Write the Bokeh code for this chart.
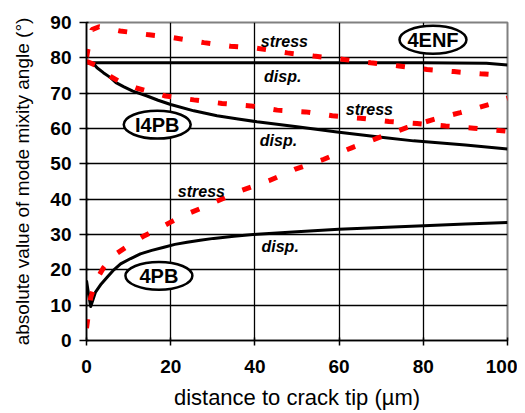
from bokeh.plotting import figure
from bokeh.models import FixedTicker, Range1d
from bokeh.core.properties import value
from bokeh.embed import file_html
from bokeh.resources import INLINE

# ---- data ----
enf_disp_x = [0, 20, 40, 60, 80, 95, 100]
enf_disp_y = [78.6, 78.6, 78.6, 78.6, 78.6, 78.5, 78.0]

enf_stress_x = [0, 0.5, 1.3, 3, 8, 14.4, 20.7, 27.9, 34.2, 40.5, 47.7, 54, 60.7, 67.5, 74.2, 80.9, 87.3, 93.6, 100]
enf_stress_y = [80.0, 83.5, 88.0, 88.8, 87.6, 86.6, 85.7, 84.3, 83.3, 82.7, 81.4, 80.5, 79.6, 78.6, 77.7, 76.7, 76.1, 75.5, 74.9]

i4pb_disp_x = [0, 1.7, 2.5, 4, 5.7, 7, 8.9, 11, 14.4, 17, 20, 25.5, 31, 36, 40.5, 50, 59.5, 70, 77.7, 90, 100]
i4pb_disp_y = [78.6, 78.3, 77.2, 75.8, 74.4, 73.0, 71.8, 70.6, 69.2, 68.0, 66.8, 65.0, 63.6, 62.7, 61.9, 60.5, 59.0, 57.5, 56.5, 55.3, 54.2]

i4pb_stress_x = [0, 2, 3.5, 5.7, 8, 12, 18.8, 25.5, 32.2, 39, 45.3, 52, 58.4, 65.1, 71.8, 78.5, 85.3, 92, 100]
i4pb_stress_y = [79.0, 78.0, 76.5, 74.7, 73.2, 71.4, 69.2, 68.1, 67.1, 66.4, 65.2, 64.7, 63.6, 62.9, 62.0, 61.4, 60.7, 60.1, 59.2]

pb_disp_x = [0, 0.5, 1, 2.1, 3.5, 4.9, 6.5, 8.1, 10.5, 12.8, 15.5, 18.4, 21, 23.9, 27, 30.2, 35, 40.5, 50, 59.9, 70, 80.1, 90, 100]
pb_disp_y = [17.0, 13.0, 9.6, 13.6, 16.0, 17.9, 20.0, 21.7, 23.2, 24.5, 25.5, 26.4, 27.2, 27.8, 28.4, 28.9, 29.5, 30.1, 30.8, 31.5, 32.0, 32.5, 33.0, 33.4]

pb_stress_x = [0, 1, 2.5, 4.1, 7, 10.5, 13.5, 16.8, 20, 23.5, 27, 30.2, 36.6, 43.3, 49.6, 56.4, 63.1, 69.4, 76.2, 82.5, 88.8, 95.6, 100]
pb_stress_y = [3.5, 12.2, 17.5, 20.7, 24.5, 27.3, 29.5, 31.5, 33.5, 35.6, 37.3, 39.0, 42.4, 45.2, 48.5, 51.3, 54.6, 57.4, 60.3, 62.6, 64.5, 66.8, 68.6]

x_ticks = [0, 20, 40, 60, 80, 100]
y_ticks = [0, 10, 20, 30, 40, 50, 60, 70, 80, 90]

# annotation labels
curve_labels = ["stress", "disp.", "stress", "disp.", "stress", "disp."]
curve_label_x = [47.0, 46.6, 67.2, 45.6, 27.3, 46.0]
curve_label_y = [84.7, 74.6, 65.3, 56.5, 42.1, 26.6]

case_labels = ["4ENF", "I4PB", "4PB"]
case_x = [82.3, 16.8, 17.2]
case_y = [85.1, 61.1, 18.3]

FONT = "Liberation Sans"

p = figure(frame_width=421, frame_height=318, output_backend="svg", toolbar_location=None,
           x_range=Range1d(0, 100), y_range=Range1d(0, 90),
           min_border_left=86, min_border_top=22, min_border_right=10, min_border_bottom=66,
           background_fill_color="white", border_fill_color="white")

p.outline_line_color = "#808080"
p.outline_line_width = 2

# grid
p.xgrid.ticker = FixedTicker(ticks=[20, 40, 60, 80])
p.ygrid.ticker = FixedTicker(ticks=[10, 20, 30, 40, 50, 60, 70, 80])
p.xgrid.grid_line_color = "black"
p.ygrid.grid_line_color = "black"
p.xgrid.grid_line_width = 1.3
p.ygrid.grid_line_width = 1.3

# axes
p.xaxis.ticker = FixedTicker(ticks=x_ticks)
p.yaxis.ticker = FixedTicker(ticks=y_ticks)
for ax in (p.xaxis[0], p.yaxis[0]):
    ax.axis_line_color = "black"
    ax.axis_line_width = 1.5
    ax.major_tick_line_color = "black"
    ax.major_tick_line_width = 1.5
    ax.minor_tick_line_color = None
    ax.major_label_text_font = FONT
    ax.major_label_text_font_style = "bold"
    ax.major_label_text_color = "black"
    ax.axis_label_text_font = FONT
    ax.axis_label_text_font_style = "normal"
    ax.axis_label_text_color = "black"

p.xaxis.major_tick_in = 3
p.xaxis.major_tick_out = 5
p.yaxis.major_tick_in = 2
p.yaxis.major_tick_out = 7
p.xaxis.major_label_text_font_size = "19px"
p.yaxis.major_label_text_font_size = "19px"
p.xaxis.major_label_standoff = 14
p.yaxis.major_label_standoff = 8
p.xaxis.axis_label = "distance to crack tip (µm)"
p.yaxis.axis_label = "absolute value of mode mixity angle (°)"
p.xaxis.axis_label_text_font_size = "22px"
p.yaxis.axis_label_text_font_size = "19px"
p.xaxis.axis_label_standoff = 9
p.yaxis.axis_label_standoff = 14

# curves: black solid (disp.) then red dashed (stress)
for xs, ys in ((enf_disp_x, enf_disp_y), (i4pb_disp_x, i4pb_disp_y), (pb_disp_x, pb_disp_y)):
    p.line(xs, ys, line_color="black", line_width=3, line_join="round")
for xs, ys in ((enf_stress_x, enf_stress_y), (i4pb_stress_x, i4pb_stress_y), (pb_stress_x, pb_stress_y)):
    p.line(xs, ys, line_color="#FF0000", line_width=5, line_dash="9 19")

# curve annotations
p.text(curve_label_x, curve_label_y, text=curve_labels, text_font=value(FONT),
       text_font_style="bold italic", text_font_size="16px", text_align="center",
       text_baseline="middle", text_color="black")

# case ellipses
p.ellipse(case_x, case_y, width=15.9, height=7.9, fill_color="white",
          line_color="black", line_width=2.5)
p.text(case_x, case_y, text=case_labels, text_font=value(FONT),
       text_font_style="bold", text_font_size="20px", text_align="center",
       text_baseline="middle", text_color="black")

open("out.html", "w").write(file_html(p, INLINE))
